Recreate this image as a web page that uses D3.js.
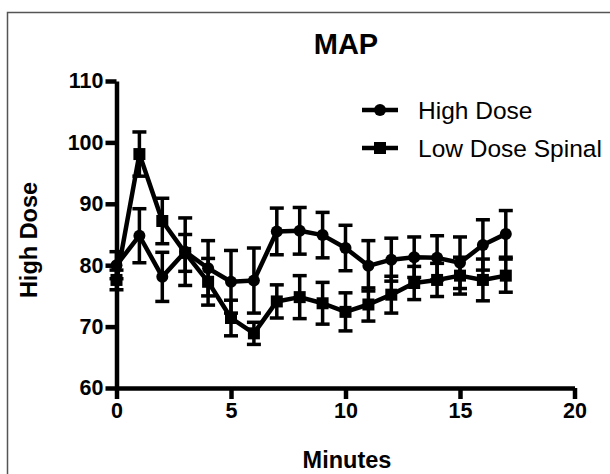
<!DOCTYPE html>
<html>
<head>
<meta charset="utf-8">
<script src="https://cdn.jsdelivr.net/npm/d3@7"></script>
<style>
  body { margin: 0; background: #fff; }
  svg text { font-family: "Liberation Sans", Arial, sans-serif; fill: #000; }
</style>
</head>
<body>
<div id="chart"></div>
<script>
const W = 610, H = 474;

// values (mean +/- error)
const minutes = [0, 1, 2, 3, 4, 5, 6, 7, 8, 9, 10, 11, 12, 13, 14, 15, 16, 17];
const highDose = [80.0, 84.8, 78.1, 82.2, 79.5, 77.3, 77.5, 85.5, 85.6, 84.9, 82.8, 79.9, 80.9, 81.3, 81.2, 80.4, 83.3, 85.1];
const highDoseErr = [2.2, 4.4, 4.0, 5.5, 4.5, 5.1, 5.3, 3.8, 3.8, 3.7, 3.7, 4.1, 3.5, 3.3, 3.6, 4.2, 4.1, 3.8];
const lowDose = [77.6, 98.1, 87.2, 82.0, 77.3, 71.4, 68.9, 74.1, 74.8, 73.8, 72.4, 73.6, 75.2, 77.1, 77.6, 78.3, 77.6, 78.3];
const lowDoseErr = [1.6, 3.6, 3.7, 3.0, 3.8, 2.9, 1.8, 2.7, 3.5, 3.4, 3.1, 2.7, 3.0, 2.7, 2.7, 3.0, 3.4, 2.7];
const xTicks = [0, 5, 10, 15, 20];
const yTicks = [60, 70, 80, 90, 100, 110];
const seriesNames = ["High Dose", "Low Dose Spinal"];

const series = [
  {name: seriesNames[0], shape: "circle", vals: highDose, err: highDoseErr},
  {name: seriesNames[1], shape: "square", vals: lowDose, err: lowDoseErr}
];

const x = d3.scaleLinear().domain([0, 20]).range([116.5, 574.5]);
const y = d3.scaleLinear().domain([60, 110]).range([388, 81]);

const svg = d3.select("#chart").append("svg").attr("width", W).attr("height", H);

// outer frame (only left/top visible in the picture)
svg.append("rect")
  .attr("x", 7.5).attr("y", 12.5).attr("width", 700).attr("height", 700)
  .attr("fill", "none").attr("stroke", "#555").attr("stroke-width", 1.5);

svg.append("text")
  .attr("x", 346).attr("y", 54)
  .attr("text-anchor", "middle")
  .attr("font-size", 29).attr("font-weight", "bold")
  .text("MAP");

// axes
const xAxis = svg.append("g")
  .attr("transform", `translate(0,${y(60)})`)
  .call(d3.axisBottom(x).tickValues(xTicks).tickSize(11).tickSizeOuter(0).tickPadding(3));
const yAxis = svg.append("g")
  .attr("transform", `translate(${x(0)},0)`)
  .call(d3.axisLeft(y).tickValues(yTicks).tickSize(11).tickSizeOuter(0).tickPadding(2));

[xAxis, yAxis].forEach(a => {
  a.select(".domain").attr("stroke", "#000").attr("stroke-width", 4.5);
  a.selectAll(".tick line").attr("stroke", "#000").attr("stroke-width", 4.5);
  a.selectAll(".tick text")
    .attr("font-size", 21.5).attr("font-weight", "bold")
    .attr("font-family", "Liberation Sans, Arial, sans-serif").attr("fill", "#000");
});
xAxis.selectAll(".tick text").attr("dy", "0.76em");

svg.append("text")
  .attr("x", 347).attr("y", 468)
  .attr("text-anchor", "middle")
  .attr("font-size", 23.5).attr("font-weight", "bold")
  .text("Minutes");

svg.append("text")
  .attr("transform", `translate(37,240) rotate(-90)`)
  .attr("text-anchor", "middle")
  .attr("font-size", 23.5).attr("font-weight", "bold")
  .text("High Dose");

const line = d3.line().x((d, i) => x(minutes[i])).y(d => y(d));
const capW = 7;

function drawMarker(g, shape, cx, cy) {
  if (shape === "circle") {
    g.append("circle").attr("cx", cx).attr("cy", cy).attr("r", 6).attr("fill", "#000");
  } else {
    g.append("rect").attr("x", cx - 6).attr("y", cy - 6).attr("width", 12).attr("height", 12).attr("fill", "#000");
  }
}

const plot = svg.append("g");

series.forEach(s => {
  const eb = plot.append("g").attr("stroke", "#000").attr("stroke-width", 3.5);
  s.vals.forEach((v, i) => {
    const cx = x(minutes[i]);
    const top = y(v + s.err[i]), bot = y(v - s.err[i]);
    eb.append("line").attr("x1", cx).attr("x2", cx).attr("y1", top).attr("y2", bot);
    eb.append("line").attr("x1", cx - capW).attr("x2", cx + capW).attr("y1", top).attr("y2", top);
    eb.append("line").attr("x1", cx - capW).attr("x2", cx + capW).attr("y1", bot).attr("y2", bot);
  });
});

series.forEach(s => {
  plot.append("path")
    .attr("d", line(s.vals))
    .attr("fill", "none").attr("stroke", "#000").attr("stroke-width", 4.5)
    .attr("stroke-linejoin", "round");
  const mk = plot.append("g");
  s.vals.forEach((v, i) => drawMarker(mk, s.shape, x(minutes[i]), y(v)));
});

// legend
const legend = svg.append("g");
series.forEach((s, i) => {
  const ly = 110 + i * 38;
  legend.append("line")
    .attr("x1", 362).attr("x2", 398).attr("y1", ly).attr("y2", ly)
    .attr("stroke", "#000").attr("stroke-width", 4.5);
  drawMarker(legend, s.shape, 380, ly);
  legend.append("text")
    .attr("x", 418).attr("y", ly + 8.5)
    .attr("font-size", 24.5)
    .text(s.name);
});
</script>
</body>
</html>
